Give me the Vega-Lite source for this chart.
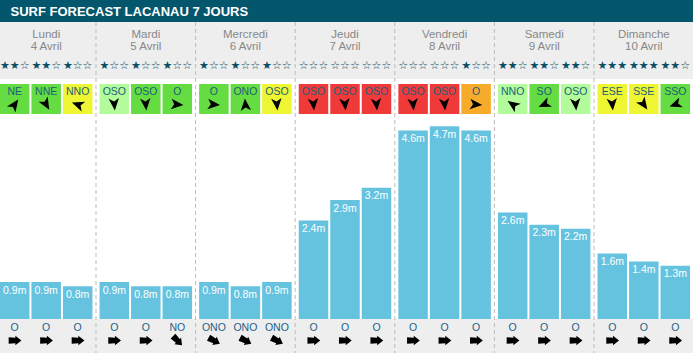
{
  "$schema": "https://vega.github.io/schema/vega-lite/v6.json",
  "width": 693,
  "height": 357,
  "autosize": "none",
  "padding": 0,
  "background": "white",
  "config": {"view": {"stroke": null}, "font": "Liberation Sans"},
  "datasets": {
    "titre": [{"t": "SURF FORECAST LACANAU 7 JOURS"}],
    "jours": [
      {"j": "Lundi", "d": "4 Avril"},
      {"j": "Mardi", "d": "5 Avril"},
      {"j": "Mercredi", "d": "6 Avril"},
      {"j": "Jeudi", "d": "7 Avril"},
      {"j": "Vendredi", "d": "8 Avril"},
      {"j": "Samedi", "d": "9 Avril"},
      {"j": "Dimanche", "d": "10 Avril"}
    ],
    "creneaux": [
      {"j": "Lundi", "c": 1, "h": 0.9, "e": 2, "v": "NE", "vc": "vert", "va": -55, "s": "O", "sa": 0},
      {"j": "Lundi", "c": 2, "h": 0.9, "e": 2, "v": "NNE", "vc": "vert", "va": 60, "s": "O", "sa": 0},
      {"j": "Lundi", "c": 3, "h": 0.8, "e": 1, "v": "NNO", "vc": "jaune", "va": 200, "s": "O", "sa": 0},
      {"j": "Mardi", "c": 1, "h": 0.9, "e": 1, "v": "OSO", "vc": "vert clair", "va": 85, "s": "O", "sa": 0},
      {"j": "Mardi", "c": 2, "h": 0.8, "e": 1, "v": "OSO", "vc": "vert", "va": 85, "s": "O", "sa": 0},
      {"j": "Mardi", "c": 3, "h": 0.8, "e": 1, "v": "O", "vc": "vert", "va": 5, "s": "NO", "sa": 45},
      {"j": "Mercredi", "c": 1, "h": 0.9, "e": 1, "v": "O", "vc": "vert", "va": 5, "s": "ONO", "sa": 28},
      {"j": "Mercredi", "c": 2, "h": 0.8, "e": 1, "v": "ONO", "vc": "vert", "va": -95, "s": "ONO", "sa": 28},
      {"j": "Mercredi", "c": 3, "h": 0.9, "e": 1, "v": "OSO", "vc": "jaune", "va": 85, "s": "ONO", "sa": 28},
      {"j": "Jeudi", "c": 1, "h": 2.4, "e": 0, "v": "OSO", "vc": "rouge", "va": 85, "s": "O", "sa": 0},
      {"j": "Jeudi", "c": 2, "h": 2.9, "e": 0, "v": "OSO", "vc": "rouge", "va": 85, "s": "O", "sa": 0},
      {"j": "Jeudi", "c": 3, "h": 3.2, "e": 0, "v": "OSO", "vc": "rouge", "va": 85, "s": "O", "sa": 0},
      {"j": "Vendredi", "c": 1, "h": 4.6, "e": 0, "v": "OSO", "vc": "rouge", "va": 85, "s": "O", "sa": 0},
      {"j": "Vendredi", "c": 2, "h": 4.7, "e": 0, "v": "OSO", "vc": "rouge", "va": 85, "s": "O", "sa": 0},
      {"j": "Vendredi", "c": 3, "h": 4.6, "e": 1, "v": "O", "vc": "orange", "va": 5, "s": "O", "sa": 0},
      {"j": "Samedi", "c": 1, "h": 2.6, "e": 2, "v": "NNO", "vc": "vert clair", "va": 215, "s": "O", "sa": 0},
      {"j": "Samedi", "c": 2, "h": 2.3, "e": 2, "v": "SO", "vc": "vert", "va": 155, "s": "O", "sa": 0},
      {"j": "Samedi", "c": 3, "h": 2.2, "e": 2, "v": "OSO", "vc": "vert clair", "va": 85, "s": "O", "sa": 0},
      {"j": "Dimanche", "c": 1, "h": 1.6, "e": 3, "v": "ESE", "vc": "jaune", "va": 85, "s": "O", "sa": 0},
      {"j": "Dimanche", "c": 2, "h": 1.4, "e": 3, "v": "SSE", "vc": "jaune", "va": 55, "s": "O", "sa": 0},
      {"j": "Dimanche", "c": 3, "h": 1.3, "e": 2, "v": "SSO", "vc": "vert", "va": 160, "s": "O", "sa": 0}
    ]
  },
  "encoding": {
    "x": {
      "field": "j", "type": "nominal", "axis": null,
      "scale": {
        "domain": ["Lundi", "Mardi", "Mercredi", "Jeudi", "Vendredi", "Samedi", "Dimanche"],
        "range": [-3.6, 693.6], "paddingInner": 0, "paddingOuter": 0
      }
    }
  },
  "layer": [
    {
      "data": {"name": "titre"},
      "mark": {"type": "rect", "color": "#03566b"},
      "encoding": {"x": {"value": 0}, "x2": {"value": 693}, "y": {"value": 0}, "y2": {"value": 22}}
    },
    {
      "data": {"name": "titre"},
      "mark": {"type": "text", "color": "white", "fontWeight": "bold", "fontSize": 13, "align": "left", "baseline": "middle"},
      "encoding": {"x": {"value": 10.5}, "y": {"value": 11.5}, "text": {"field": "t"}}
    },
    {
      "data": {"name": "titre"},
      "mark": {"type": "rect", "color": "#eeeeee"},
      "encoding": {"x": {"value": 0}, "x2": {"value": 693}, "y": {"value": 22}, "y2": {"value": 79}}
    },
    {
      "data": {"name": "titre"},
      "mark": {"type": "rect", "color": "#eeeeee"},
      "encoding": {"x": {"value": 0}, "x2": {"value": 693}, "y": {"value": 319}, "y2": {"value": 353}}
    },
    {
      "data": {"name": "jours"},
      "mark": {"type": "rule", "color": "#bbbbbb", "strokeDash": [4, 3], "strokeWidth": 1},
      "encoding": {
        "x": {"field": "j", "type": "nominal", "bandPosition": 0},
        "y": {"value": 22}, "y2": {"value": 353}
      }
    },
    {
      "data": {"name": "jours"},
      "mark": {"type": "text", "color": "#888888", "fontSize": 11.5, "baseline": "middle"},
      "encoding": {"y": {"value": 35}, "text": {"field": "j"}}
    },
    {
      "data": {"name": "jours"},
      "mark": {"type": "text", "color": "#888888", "fontSize": 11.5, "baseline": "middle"},
      "encoding": {"y": {"value": 47}, "text": {"field": "d"}}
    },
    {
      "data": {"name": "creneaux"},
      "transform": [{"calculate": "slice('★★★', 0, datum.e) + slice('☆☆☆', 0, 3 - datum.e)", "as": "etoiles"}],
      "mark": {"type": "text", "color": "#0b4f66", "font": "DejaVu Sans", "fontSize": 11, "baseline": "middle"},
      "encoding": {
        "xOffset": {"field": "c", "type": "ordinal", "scale": {"paddingInner": 0.063, "paddingOuter": 0.1125}},
        "y": {"value": 66}, "text": {"field": "etoiles"}
      }
    },
    {
      "data": {"name": "creneaux"},
      "mark": {"type": "bar"},
      "encoding": {
        "xOffset": {"field": "c", "type": "ordinal"},
        "y": {"value": 84}, "y2": {"value": 114},
        "color": {
          "field": "vc", "type": "nominal", "legend": null,
          "scale": {"domain": ["vert", "vert clair", "jaune", "orange", "rouge"], "range": ["#64dc42", "#b3fc9b", "#eef533", "#f6ab2b", "#f03a3a"]}
        }
      }
    },
    {
      "data": {"name": "creneaux"},
      "mark": {"type": "text", "color": "#1c5f78", "fontSize": 10.5, "baseline": "middle"},
      "encoding": {
        "xOffset": {"field": "c", "type": "ordinal"},
        "y": {"value": 91.5}, "text": {"field": "v"}
      }
    },
    {
      "data": {"name": "creneaux"},
      "mark": {"type": "point", "filled": true, "color": "black", "opacity": 1, "size": 150,
        "shape": "M1,0 L-1,-0.85 L-0.5,0 L-1,0.85 Z"},
      "encoding": {
        "xOffset": {"field": "c", "type": "ordinal"},
        "y": {"value": 104.5},
        "angle": {"field": "va", "type": "quantitative", "scale": null}
      }
    },
    {
      "data": {"name": "creneaux"},
      "mark": {"type": "bar", "color": "#65c3df"},
      "encoding": {
        "xOffset": {"field": "c", "type": "ordinal"},
        "y": {"field": "h", "type": "quantitative", "axis": null, "scale": {"domain": [0, 5], "range": [319, 114]}}
      }
    },
    {
      "data": {"name": "creneaux"},
      "transform": [{"calculate": "format(datum.h, '.1f') + 'm'", "as": "lab"}],
      "mark": {"type": "text", "color": "white", "fontSize": 10.5, "baseline": "top", "dy": 3.5},
      "encoding": {
        "xOffset": {"field": "c", "type": "ordinal"},
        "y": {"field": "h", "type": "quantitative"},
        "text": {"field": "lab"}
      }
    },
    {
      "data": {"name": "creneaux"},
      "mark": {"type": "text", "color": "#1c5f88", "fontSize": 10.5, "baseline": "middle"},
      "encoding": {
        "xOffset": {"field": "c", "type": "ordinal"},
        "y": {"value": 327.5}, "text": {"field": "s"}
      }
    },
    {
      "data": {"name": "creneaux"},
      "mark": {"type": "point", "filled": true, "color": "black", "opacity": 1, "size": 180,
        "shape": "M1,0 L0.1,-0.7 L0.1,-0.4 L-0.9,-0.5 L-0.9,0.5 L0.1,0.4 L0.1,0.7 Z"},
      "encoding": {
        "xOffset": {"field": "c", "type": "ordinal"},
        "y": {"value": 340.5},
        "angle": {"field": "sa", "type": "quantitative", "scale": null}
      }
    }
  ]
}
